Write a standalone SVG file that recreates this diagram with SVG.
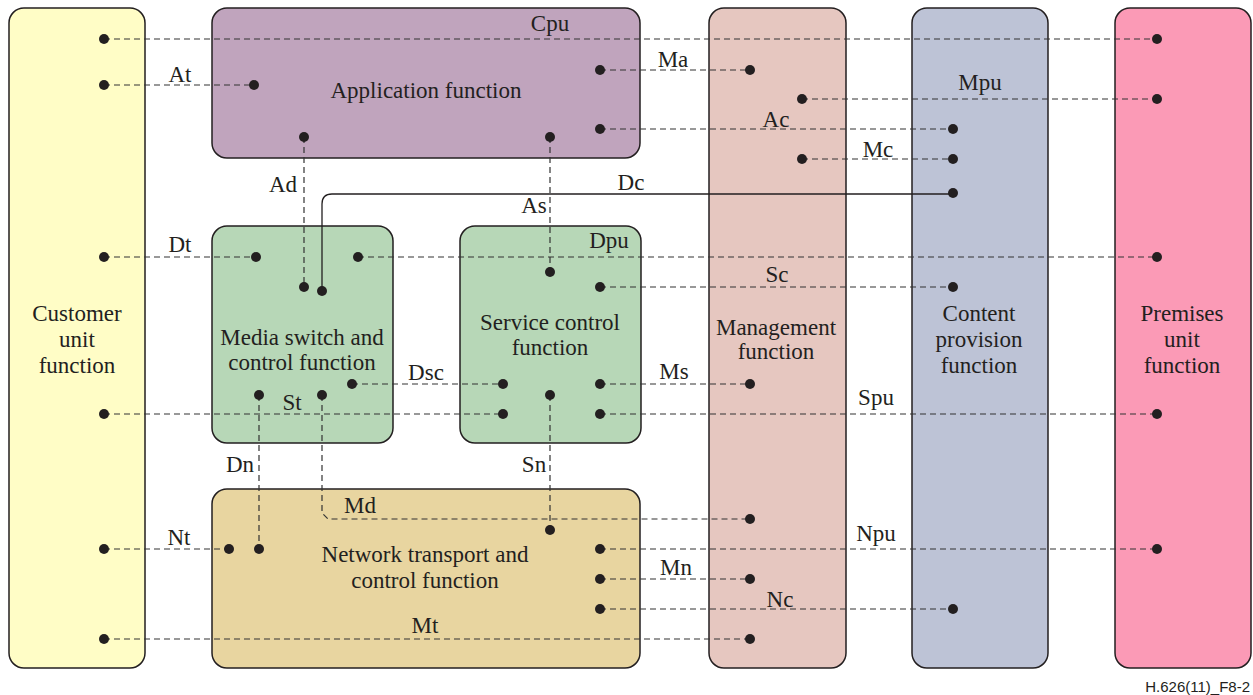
<svg xmlns="http://www.w3.org/2000/svg" width="1253" height="695" viewBox="0 0 1253 695">
<style>
.box{stroke:#231f20;stroke-width:1.5}
.t{font-family:"Liberation Serif","Times New Roman",serif;font-size:23px;fill:#231f20;text-anchor:middle}
.l{font-family:"Liberation Serif","Times New Roman",serif;font-size:23px;fill:#231f20;text-anchor:middle}
.d{fill:none;stroke:#333;stroke-width:1.2;stroke-dasharray:6,4}
.s{fill:none;stroke:#231f20;stroke-width:1.3}
.dot{fill:#231f20}
</style>
<rect width="1253" height="695" fill="#fff"/>
<g id="customer">
<rect class="box" x="9" y="8" width="136" height="660" rx="15" fill="#FFFDC6"/>
<text class="t" x="77" y="321">Customer</text><text class="t" x="77" y="347">unit</text><text class="t" x="77" y="373">function</text>
</g>
<g id="application">
<rect class="box" x="212" y="8" width="428" height="150" rx="15" fill="#C0A4BD"/>
<text class="t" x="426" y="98">Application function</text>
</g>
<g id="management">
<rect class="box" x="709" y="8" width="137" height="660" rx="15" fill="#E6C7C0"/>
<text class="t" x="776" y="335">Management</text><text class="t" x="776" y="359">function</text>
</g>
<g id="content">
<rect class="box" x="912" y="8" width="136" height="660" rx="15" fill="#BDC3D6"/>
<text class="t" x="979" y="321">Content</text><text class="t" x="979" y="347">provision</text><text class="t" x="979" y="373">function</text>
</g>
<g id="premises">
<rect class="box" x="1115" y="8" width="136" height="660" rx="15" fill="#FB9AB6"/>
<text class="t" x="1182" y="321">Premises</text><text class="t" x="1182" y="347">unit</text><text class="t" x="1182" y="373">function</text>
</g>
<g id="media">
<rect class="box" x="212" y="226" width="181" height="217" rx="15" fill="#B7D7B7"/>
<text class="t" x="302" y="345">Media switch and</text><text class="t" x="302" y="370">control function</text>
</g>
<g id="service">
<rect class="box" x="460" y="226" width="181" height="217" rx="15" fill="#B7D7B7"/>
<text class="t" x="550" y="330">Service control</text><text class="t" x="550" y="355">function</text>
</g>
<g id="network">
<rect class="box" x="212" y="489" width="428" height="179" rx="15" fill="#E8D5A0"/>
<text class="t" x="425" y="562">Network transport and</text><text class="t" x="425" y="588">control function</text>
</g>
<g id="connectors">
<path class="d" d="M104 39H1157"/>
<path class="d" d="M104 85H254"/>
<path class="d" d="M600 70H750"/>
<path class="d" d="M802 99H1157"/>
<path class="d" d="M600 129H953"/>
<path class="d" d="M802 159H953"/>
<path class="d" d="M304 137V287"/>
<path class="d" d="M550 137V272"/>
<path class="s" d="M953 194H332Q322 194 322 204V291"/>
<path class="d" d="M104 257H256"/>
<path class="d" d="M358 257H1157"/>
<path class="d" d="M600 287H953"/>
<path class="d" d="M352 384H503"/>
<path class="d" d="M600 384H750"/>
<path class="d" d="M104 414H503"/>
<path class="d" d="M600 414H1157"/>
<path class="d" d="M259 395V549"/>
<path class="d" d="M322 395V513L328 519H750"/>
<path class="d" d="M550 395V530"/>
<path class="d" d="M104 549H229"/>
<path class="d" d="M600 549H1157"/>
<path class="d" d="M600 579H750"/>
<path class="d" d="M600 609H953"/>
<path class="d" d="M104 639H750"/>
</g>
<g id="dots">
<circle class="dot" cx="104" cy="39" r="5"/><circle class="dot" cx="1157" cy="39" r="5"/>
<circle class="dot" cx="104" cy="85" r="5"/><circle class="dot" cx="254" cy="85" r="5"/>
<circle class="dot" cx="600" cy="70" r="5"/><circle class="dot" cx="750" cy="70" r="5"/>
<circle class="dot" cx="802" cy="99" r="5"/><circle class="dot" cx="1157" cy="99" r="5"/>
<circle class="dot" cx="600" cy="129" r="5"/><circle class="dot" cx="953" cy="129" r="5"/>
<circle class="dot" cx="802" cy="159" r="5"/><circle class="dot" cx="953" cy="159" r="5"/>
<circle class="dot" cx="304" cy="137" r="5"/><circle class="dot" cx="550" cy="137" r="5"/>
<circle class="dot" cx="953" cy="193" r="5"/>
<circle class="dot" cx="104" cy="257" r="5"/><circle class="dot" cx="256" cy="257" r="5"/>
<circle class="dot" cx="358" cy="257" r="5"/><circle class="dot" cx="1157" cy="257" r="5"/>
<circle class="dot" cx="550" cy="272" r="5"/>
<circle class="dot" cx="304" cy="287" r="5"/><circle class="dot" cx="322" cy="291" r="5"/>
<circle class="dot" cx="600" cy="287" r="5"/><circle class="dot" cx="953" cy="287" r="5"/>
<circle class="dot" cx="352" cy="384" r="5"/><circle class="dot" cx="503" cy="384" r="5"/>
<circle class="dot" cx="600" cy="384" r="5"/><circle class="dot" cx="750" cy="384" r="5"/>
<circle class="dot" cx="259" cy="395" r="5"/><circle class="dot" cx="322" cy="395" r="5"/><circle class="dot" cx="550" cy="395" r="5"/>
<circle class="dot" cx="104" cy="414" r="5"/><circle class="dot" cx="503" cy="414" r="5"/>
<circle class="dot" cx="600" cy="414" r="5"/><circle class="dot" cx="1157" cy="414" r="5"/>
<circle class="dot" cx="750" cy="519" r="5"/><circle class="dot" cx="550" cy="530" r="5"/>
<circle class="dot" cx="104" cy="549" r="5"/><circle class="dot" cx="229" cy="549" r="5"/><circle class="dot" cx="259" cy="549" r="5"/>
<circle class="dot" cx="600" cy="549" r="5"/><circle class="dot" cx="1157" cy="549" r="5"/>
<circle class="dot" cx="600" cy="579" r="5"/><circle class="dot" cx="750" cy="579" r="5"/>
<circle class="dot" cx="600" cy="609" r="5"/><circle class="dot" cx="953" cy="609" r="5"/>
<circle class="dot" cx="104" cy="639" r="5"/><circle class="dot" cx="750" cy="639" r="5"/>
</g>
<g id="labels">
<text class="l" x="550" y="31">Cpu</text>
<text class="l" x="180" y="82">At</text>
<text class="l" x="673" y="67">Ma</text>
<text class="l" x="980" y="90">Mpu</text>
<text class="l" x="776" y="127">Ac</text>
<text class="l" x="878" y="157">Mc</text>
<text class="l" x="283" y="192">Ad</text>
<text class="l" x="631" y="190">Dc</text>
<text class="l" x="534" y="213">As</text>
<text class="l" x="180" y="252">Dt</text>
<text class="l" x="609" y="248">Dpu</text>
<text class="l" x="777" y="282">Sc</text>
<text class="l" x="426" y="380">Dsc</text>
<text class="l" x="674" y="379">Ms</text>
<text class="l" x="292" y="410">St</text>
<text class="l" x="876" y="405">Spu</text>
<text class="l" x="240" y="472">Dn</text>
<text class="l" x="534" y="472">Sn</text>
<text class="l" x="360" y="513">Md</text>
<text class="l" x="179" y="545">Nt</text>
<text class="l" x="876" y="541">Npu</text>
<text class="l" x="676" y="575">Mn</text>
<text class="l" x="780" y="607">Nc</text>
<text class="l" x="425" y="633">Mt</text>
</g>
<text x="1250" y="692" font-family="Liberation Sans,Arial,sans-serif" font-size="15" fill="#231f20" text-anchor="end">H.626(11)_F8-2</text>
</svg>
